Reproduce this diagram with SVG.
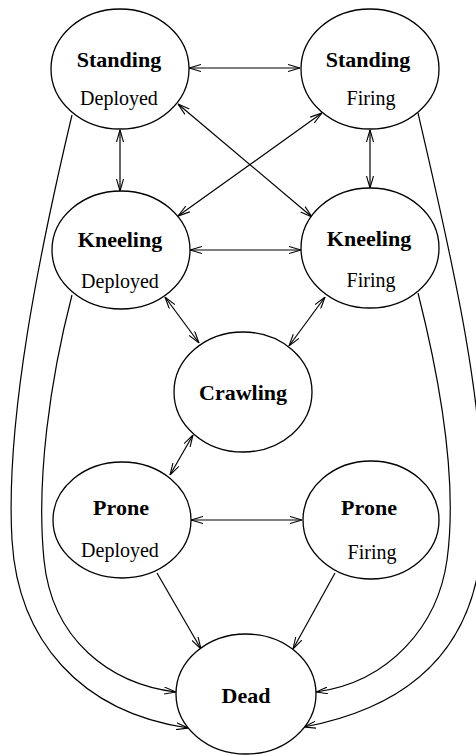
<svg xmlns="http://www.w3.org/2000/svg" width="476" height="755" viewBox="0 0 476 755">
<style>
.node ellipse{fill:#fff;stroke:#000;stroke-width:1.3}
.t{font-family:"Liberation Serif","Times New Roman",serif;font-size:22px;font-weight:bold;text-anchor:middle;fill:#000}
.s{font-family:"Liberation Serif","Times New Roman",serif;font-size:20px;text-anchor:middle;fill:#000}
.e path{fill:none;stroke:#000;stroke-width:1.2}
.d{marker-start:url(#ah);marker-end:url(#ah)}
.o{marker-end:url(#ah)}
</style>
<defs>
<marker id="ah" markerUnits="userSpaceOnUse" viewBox="0 0 12 8" refX="12" refY="4" markerWidth="12" markerHeight="8" orient="auto-start-reverse">
<path d="M0,0.5 L12,4 L0,7.5" fill="none" stroke="#000" stroke-width="1.1"/>
</marker>
</defs>
<rect width="476" height="755" fill="#fff"/>
<g id="connectors" class="e">
<path class="d" d="M189,68 L300,68"/>
<path class="d" d="M120,130 L120,191"/>
<path class="d" d="M370,130 L370,188"/>
<path class="d" d="M178,104 L312,217"/>
<path class="d" d="M322,113 L178,216"/>
<path class="d" d="M190,250 L301,250"/>
<path class="d" d="M165,297 L199,343"/>
<path class="d" d="M325,297 L289,346"/>
<path class="d" d="M193,435 L170,475"/>
<path class="d" d="M191,520 L302,520"/>
<path class="o" d="M157,573 L201,649"/>
<path class="o" d="M335,573 L293,649"/>
<path class="o" d="M72,115 C40,250 5,420 12,540 C18,640 80,712 188,728"/>
<path class="o" d="M72,295 C50,380 36,480 44,560 C52,640 110,684 176,692"/>
<path class="o" d="M418,113 C450,250 490,420 482,540 C476,640 420,705 304,727"/>
<path class="o" d="M418,293 C440,380 458,480 447,560 C438,625 390,682 316,692"/>
</g>
<g id="standing-deployed" class="node"><ellipse cx="120" cy="69" rx="69" ry="60"/><text class="t" x="119" y="67">Standing</text><text class="s" x="119" y="105">Deployed</text></g>
<g id="standing-firing" class="node"><ellipse cx="370" cy="69" rx="69" ry="60"/><text class="t" x="368" y="67">Standing</text><text class="s" x="371" y="105">Firing</text></g>
<g id="kneeling-deployed" class="node"><ellipse cx="121" cy="250" rx="69" ry="59"/><text class="t" x="120" y="247">Kneeling</text><text class="s" x="120" y="288">Deployed</text></g>
<g id="kneeling-firing" class="node"><ellipse cx="370" cy="248" rx="69" ry="60"/><text class="t" x="369" y="246">Kneeling</text><text class="s" x="371" y="287">Firing</text></g>
<g id="crawling" class="node"><ellipse cx="243" cy="392" rx="69" ry="60"/><text class="t" x="243" y="400">Crawling</text></g>
<g id="prone-deployed" class="node"><ellipse cx="122" cy="520" rx="69" ry="58"/><text class="t" x="121" y="515">Prone</text><text class="s" x="120" y="557">Deployed</text></g>
<g id="prone-firing" class="node"><ellipse cx="371" cy="520" rx="68" ry="59"/><text class="t" x="369" y="515">Prone</text><text class="s" x="372" y="559">Firing</text></g>
<g id="dead" class="node"><ellipse cx="246" cy="694" rx="70" ry="60"/><text class="t" x="246" y="703">Dead</text></g>
</svg>
